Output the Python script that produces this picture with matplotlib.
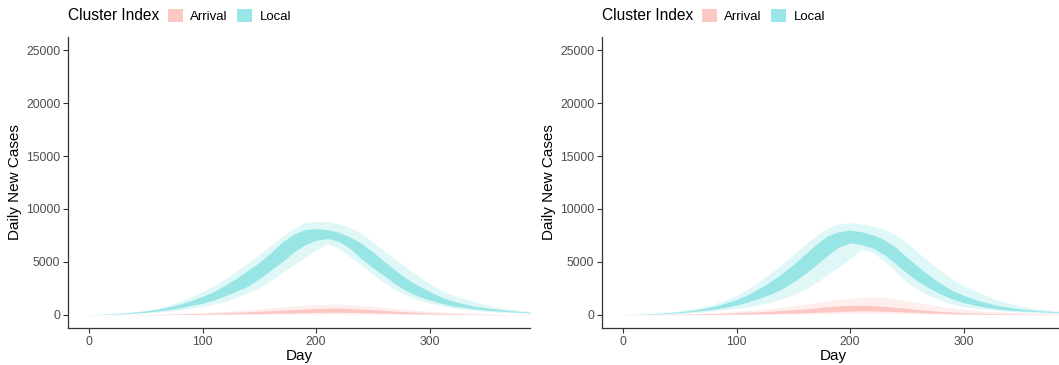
"""Daily new cases by cluster index (Arrival / Local), two scenarios side by side.

Ribbons: light = 95% interval, dark = 50% interval. Values read off the
published figure every 10 days.
"""

import matplotlib.pyplot as plt
from matplotlib.patches import Patch

plt.rcParams["font.family"] = ["Liberation Sans", "DejaVu Sans"]

ARRIVAL = "#F8766D"
LOCAL = "#00BFC4"
TICK = "#4D4D4D"

CATEGORIES = ["Arrival", "Local"]
DAYS = list(range(0, 400, 10))
Y_TICKS = [0, 5000, 10000, 15000, 20000, 25000]
X_TICKS = [0, 100, 200, 300]

# left panel, Local
L_LOCAL_LO95 = [0, 10, 30, 60, 100, 160, 230, 330, 460, 620, 800, 1000, 1250, 1650,
                2100, 2550, 3200, 3950, 4700, 5400, 6100, 6700, 6300, 5500, 4700,
                3800, 3050, 2350, 1850, 1400, 1100, 850, 650, 500, 400, 330, 260,
                200, 150, 110]
L_LOCAL_LO50 = [5, 20, 50, 100, 160, 240, 340, 480, 660, 880, 1100, 1400, 1800, 2250,
                2700, 3400, 4200, 5000, 5900, 6600, 7050, 7200, 6950, 6250, 5300,
                4450, 3700, 2900, 2250, 1750, 1400, 1100, 850, 700, 550, 430, 360,
                290, 230, 180]
L_LOCAL_HI50 = [10, 40, 90, 160, 250, 360, 520, 740, 1000, 1350, 1750, 2200, 2800, 3450,
                4200, 4950, 5850, 6850, 7600, 8050, 8150, 8050, 7800, 7350, 6750,
                5950, 5050, 4200, 3400, 2750, 2200, 1700, 1300, 1050, 800, 650, 520,
                400, 310, 240]
L_LOCAL_HI95 = [20, 60, 120, 200, 300, 420, 620, 900, 1250, 1700, 2200, 2750, 3400, 4150,
                4900, 5700, 6550, 7400, 8150, 8700, 8850, 8800, 8600, 8250, 7700,
                6900, 6050, 5250, 4450, 3700, 2950, 2350, 1900, 1550, 1200, 950, 720,
                550, 400, 300]

# left panel, Arrival
L_ARR_LO95 = [0, 0, 0, 0, 0, 0, 5, 5, 5, 10, 10, 15, 20, 25, 30, 35, 40, 45, 50, 55,
              60, 60, 60, 55, 50, 45, 40, 35, 30, 25, 20, 15, 10, 8, 5, 5, 3, 2, 1, 0]
L_ARR_LO50 = [0, 0, 0, 0, 5, 10, 15, 20, 30, 40, 50, 60, 75, 90, 105, 120, 140, 160,
              180, 200, 220, 240, 240, 230, 210, 185, 160, 135, 110, 90, 70, 55, 40,
              30, 20, 15, 10, 8, 5, 3]
L_ARR_HI50 = [0, 0, 5, 10, 15, 25, 40, 55, 75, 100, 125, 155, 190, 230, 280, 330, 380,
              430, 490, 540, 590, 620, 620, 590, 540, 480, 410, 340, 280, 220, 170,
              130, 100, 75, 55, 40, 30, 20, 15, 10]
L_ARR_HI95 = [0, 5, 10, 20, 30, 50, 70, 100, 130, 170, 210, 260, 320, 390, 470, 550,
              640, 730, 820, 900, 960, 1000, 1000, 960, 890, 800, 700, 600, 500, 410,
              330, 260, 200, 160, 120, 90, 70, 50, 40, 30]

# right panel, Local
R_LOCAL_LO95 = [0, 10, 25, 50, 80, 130, 190, 260, 360, 470, 600, 750, 950, 1200, 1500,
                1900, 2400, 3000, 3800, 4500, 5300, 6200, 5900, 5100, 4100, 3100,
                2400, 1800, 1350, 1000, 760, 600, 480, 390, 320, 270, 220, 180, 150,
                120]
R_LOCAL_LO50 = [5, 15, 40, 80, 130, 200, 290, 400, 520, 700, 920, 1200, 1550, 1950,
                2450, 3100, 3850, 4700, 5600, 6400, 6800, 6650, 6300, 5700, 4850,
                3950, 3150, 2500, 1950, 1500, 1150, 900, 700, 550, 440, 370, 320, 270,
                220, 180]
R_LOCAL_HI50 = [10, 30, 70, 130, 200, 290, 410, 580, 800, 1100, 1450, 1900, 2500, 3150,
                3900, 4750, 5700, 6650, 7450, 7850, 8000, 7850, 7550, 7100, 6400,
                5450, 4550, 3700, 2950, 2300, 1850, 1450, 1150, 880, 700, 560, 450,
                370, 300, 240]
R_LOCAL_HI95 = [20, 50, 100, 170, 260, 370, 530, 750, 1000, 1400, 1850, 2450, 3150,
                3950, 4750, 5650, 6600, 7500, 8200, 8600, 8700, 8600, 8400, 8100,
                7550, 6800, 5900, 5000, 4150, 3400, 2750, 2250, 1800, 1400, 1100, 850,
                640, 500, 390, 300]

# right panel, Arrival
R_ARR_LO95 = [0, 0, 0, 0, 2, 3, 5, 8, 10, 15, 20, 25, 30, 40, 50, 60, 75, 90, 105, 120,
              135, 150, 145, 135, 120, 105, 90, 75, 60, 45, 35, 28, 22, 18, 14, 10, 8,
              6, 4, 3]
R_ARR_LO50 = [0, 0, 2, 5, 8, 12, 18, 25, 35, 45, 60, 75, 95, 115, 140, 165, 195, 230,
              270, 310, 350, 380, 370, 340, 300, 260, 220, 180, 140, 110, 85, 65, 50,
              40, 30, 25, 20, 15, 10, 8]
R_ARR_HI50 = [0, 3, 8, 15, 25, 40, 60, 80, 110, 145, 185, 230, 280, 340, 410, 480, 560,
              650, 750, 830, 880, 900, 870, 790, 690, 600, 500, 400, 310, 250, 200,
              160, 125, 100, 80, 60, 45, 35, 25, 20]
R_ARR_HI95 = [0, 5, 15, 30, 50, 80, 110, 150, 200, 260, 330, 410, 500, 600, 720, 850,
              990, 1150, 1320, 1450, 1550, 1650, 1700, 1650, 1500, 1330, 1150, 980,
              800, 650, 530, 420, 330, 270, 220, 180, 150, 120, 100, 80]

PANELS = [
    {"Arrival": (L_ARR_LO95, L_ARR_LO50, L_ARR_HI50, L_ARR_HI95),
     "Local": (L_LOCAL_LO95, L_LOCAL_LO50, L_LOCAL_HI50, L_LOCAL_HI95)},
    {"Arrival": (R_ARR_LO95, R_ARR_LO50, R_ARR_HI50, R_ARR_HI95),
     "Local": (R_LOCAL_LO95, R_LOCAL_LO50, R_LOCAL_HI50, R_LOCAL_HI95)},
]
COLORS = {"Arrival": ARRIVAL, "Local": LOCAL}

OUTER_ALPHA = 0.12
INNER_ALPHA = 0.32


def draw_panel(ax, bands):
    for name in CATEGORIES:
        lo95, lo50, hi50, hi95 = bands[name]
        c = COLORS[name]
        ax.fill_between(DAYS, lo95, hi95, color=c, alpha=OUTER_ALPHA, lw=0)
        ax.fill_between(DAYS, lo50, hi50, color=c, alpha=INNER_ALPHA, lw=0)

    ax.set_xlim(-18.5, 388.5)
    ax.set_ylim(-1250, 26250)
    ax.set_xticks(X_TICKS)
    ax.set_yticks(Y_TICKS)
    for side in ("top", "right"):
        ax.spines[side].set_visible(False)
    for side in ("left", "bottom"):
        ax.spines[side].set_linewidth(0.9)
        ax.spines[side].set_color("#333333")
    ax.tick_params(length=3.5, width=0.8, color="#333333", labelcolor=TICK,
                   labelsize=8.8, pad=2)
    ax.set_xlabel("Day", fontsize=11, labelpad=1)
    ax.set_ylabel("Daily New Cases", fontsize=11, labelpad=3)


def add_legend(fig, x0):
    y = 1 - 16 / 365
    fig.text(x0, y, "Cluster Index", fontsize=11.2, va="center", ha="left")
    handles = [
        Patch(facecolor=COLORS[n], alpha=1 - (1 - OUTER_ALPHA) * (1 - INNER_ALPHA),
              edgecolor="none", label=n)
        for n in CATEGORIES
    ]
    fig.legend(handles=handles, loc="center left", ncol=2, frameon=False,
               bbox_to_anchor=(x0 + 100 / 1059, y), fontsize=9.5,
               handlelength=1.1, handleheight=1.1, handletextpad=0.6,
               columnspacing=0.7, borderaxespad=0, borderpad=0)


def main():
    W, H = 1059, 365
    fig = plt.figure(figsize=(W / 100, H / 100), dpi=100)
    fig.patch.set_facecolor("white")

    ax_w = 462 / W
    bottom = (H - 328) / H
    height = (328 - 37) / H
    for left_px, bands in zip((68, 602), PANELS):
        ax = fig.add_axes([left_px / W, bottom, ax_w, height])
        draw_panel(ax, bands)
        add_legend(fig, left_px / W)

    fig.savefig("out.png", dpi=100, facecolor="white")
    plt.close(fig)


if __name__ == "__main__":
    main()
